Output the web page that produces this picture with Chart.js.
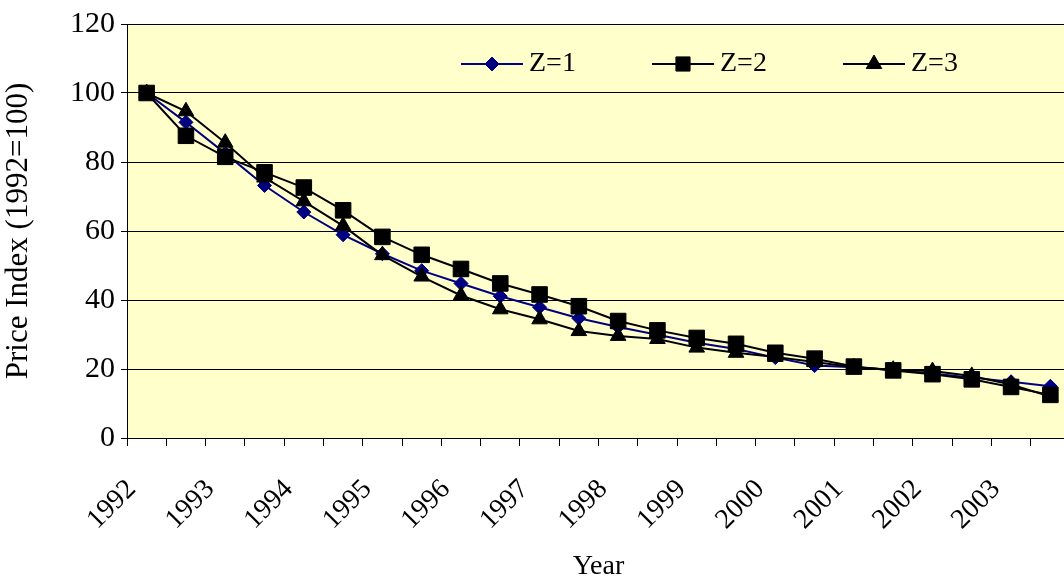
<!DOCTYPE html>
<html>
<head>
<meta charset="utf-8">
<script src="https://cdn.jsdelivr.net/npm/chart.js@4/dist/chart.umd.min.js"></script>
<style>
  html, body { margin: 0; padding: 0; background: #fff; overflow: hidden; }
  canvas { display: block; }
</style>
</head>
<body>
<canvas id="priceChart" width="1070" height="587"></canvas>
<script>
// half-yearly periods, 1992 to 2003
const periods = [
  '1992 H1', '1992 H2', '1993 H1', '1993 H2', '1994 H1', '1994 H2',
  '1995 H1', '1995 H2', '1996 H1', '1996 H2', '1997 H1', '1997 H2',
  '1998 H1', '1998 H2', '1999 H1', '1999 H2', '2000 H1', '2000 H2',
  '2001 H1', '2001 H2', '2002 H1', '2002 H2', '2003 H1', '2003 H2'
];
const yearLabels = ['1992', '1993', '1994', '1995', '1996', '1997',
                    '1998', '1999', '2000', '2001', '2002', '2003'];

const z1 = [100, 91.5, 82.5, 73.2, 65.5, 58.9, 53.4, 48.5, 44.8, 41.1, 37.9, 34.7,
            32.2, 29.9, 27.6, 25.8, 23.3, 21.0, 20.5, 19.7, 18.7, 17.5, 16.3, 15.0];
const z2 = [100, 87.6, 81.5, 77.0, 72.6, 66.0, 58.3, 53.1, 49.0, 44.8, 41.6, 38.2,
            33.9, 31.2, 29.0, 27.3, 24.7, 23.0, 20.7, 19.6, 18.5, 17.0, 14.8, 12.5];
const z3 = [100, 94.7, 85.6, 75.5, 68.6, 61.5, 53.0, 46.8, 41.3, 37.3, 34.4, 31.0,
            29.6, 28.7, 26.2, 24.7, 23.5, 22.0, 20.5, 19.8, 19.4, 18.0, 15.5, 12.0];

const seriesNames = ['Z=1', 'Z=2', 'Z=3'];
const yMin = 0, yMax = 120, yStep = 20;

const serif = 'Liberation Serif, Times New Roman, serif';

// yellow plot area
const plotBg = {
  id: 'plotBg',
  beforeDraw(chart) {
    const { ctx, chartArea: a } = chart;
    ctx.save();
    ctx.fillStyle = '#FFFFCC';
    ctx.fillRect(a.left, a.top, a.right - a.left, a.bottom - a.top);
    ctx.restore();
  }
};

// excel style legend sitting inside the plot, line + marker samples
const insideLegend = {
  id: 'insideLegend',
  afterDraw(chart) {
    const { ctx, chartArea: a } = chart;
    const y = a.top + 40;
    ctx.save();
    chart.data.datasets.forEach((ds, i) => {
      const x0 = a.left + 334 + i * 191;
      ctx.strokeStyle = ds.borderColor;
      ctx.lineWidth = 2;
      ctx.beginPath();
      ctx.moveTo(x0, y);
      ctx.lineTo(x0 + 62, y);
      ctx.stroke();
      ctx.fillStyle = ds.pointBackgroundColor;
      ctx.strokeStyle = ds.pointBorderColor;
      ctx.lineWidth = 1;
      Chart.helpers.drawPoint(ctx, {
        pointStyle: ds.pointStyle,
        radius: ds.legendRadius,
        borderWidth: 1,
        rotation: 0
      }, x0 + 31, y);
      ctx.fillStyle = '#000';
      ctx.font = '28px ' + serif;
      ctx.textAlign = 'left';
      ctx.textBaseline = 'middle';
      ctx.fillText(ds.label, x0 + 68, y);
    });
    ctx.restore();
  }
};

new Chart(document.getElementById('priceChart'), {
  type: 'line',
  data: {
    labels: periods,
    datasets: [
      {
        label: seriesNames[0], data: z1, order: 2,
        borderColor: '#000080', borderWidth: 2,
        pointStyle: 'rectRot', pointRadius: 7, legendRadius: 7,
        pointBackgroundColor: '#000080', pointBorderColor: '#000080', pointBorderWidth: 1
      },
      {
        label: seriesNames[1], data: z2, order: 1,
        borderColor: '#000000', borderWidth: 2,
        pointStyle: 'rect', pointRadius: 11, legendRadius: 10,
        pointBackgroundColor: '#000000', pointBorderColor: '#000000', pointBorderWidth: 1
      },
      {
        label: seriesNames[2], data: z3, order: 0,
        borderColor: '#000000', borderWidth: 2,
        pointStyle: 'triangle', pointRadius: 9, legendRadius: 9,
        pointBackgroundColor: '#000000', pointBorderColor: '#000000', pointBorderWidth: 1
      }
    ]
  },
  options: {
    responsive: false,
    animation: false,
    tension: 0,
    // plot runs a few px past the window's right edge, like the source
    layout: { autoPadding: false, padding: { top: 20, left: 0, right: 0, bottom: 0 } },
    plugins: {
      legend: { display: false },
      tooltip: { enabled: false }
    },
    scales: {
      x: {
        offset: true,
        afterFit(scale) {
          scale.height = 149;
          scale.paddingLeft = 0;
          scale.paddingRight = 0;
        },
        grid: {
          offset: true,
          drawOnChartArea: false,
          tickLength: 8,
          color: '#000'
        },
        border: { display: true, color: '#000', width: 1 },
        ticks: {
          autoSkip: false,
          minRotation: 45,
          maxRotation: 45,
          padding: 27,
          labelOffset: -15,
          color: '#000',
          font: { family: serif, size: 28 },
          callback: (v, i) => (i % 2 === 0 ? yearLabels[i / 2] : '')
        },
        title: {
          display: true,
          text: 'Year',
          color: '#000',
          font: { family: serif, size: 28 },
          padding: { top: 0, bottom: 4 }
        }
      },
      y: {
        min: yMin,
        max: yMax,
        afterFit(scale) { scale.width = 127; },
        grid: {
          color: '#000',
          lineWidth: 1,
          tickLength: 6
        },
        border: { display: true, color: '#000', width: 1 },
        ticks: {
          stepSize: yStep,
          padding: 6,
          color: '#000',
          font: { family: serif, size: 30 }
        },
        title: {
          display: true,
          text: 'Price Index (1992=100)',
          color: '#000',
          font: { family: serif, size: 31 },
          padding: { top: 0, bottom: 2 }
        }
      }
    }
  },
  plugins: [plotBg, insideLegend]
});
</script>
</body>
</html>
